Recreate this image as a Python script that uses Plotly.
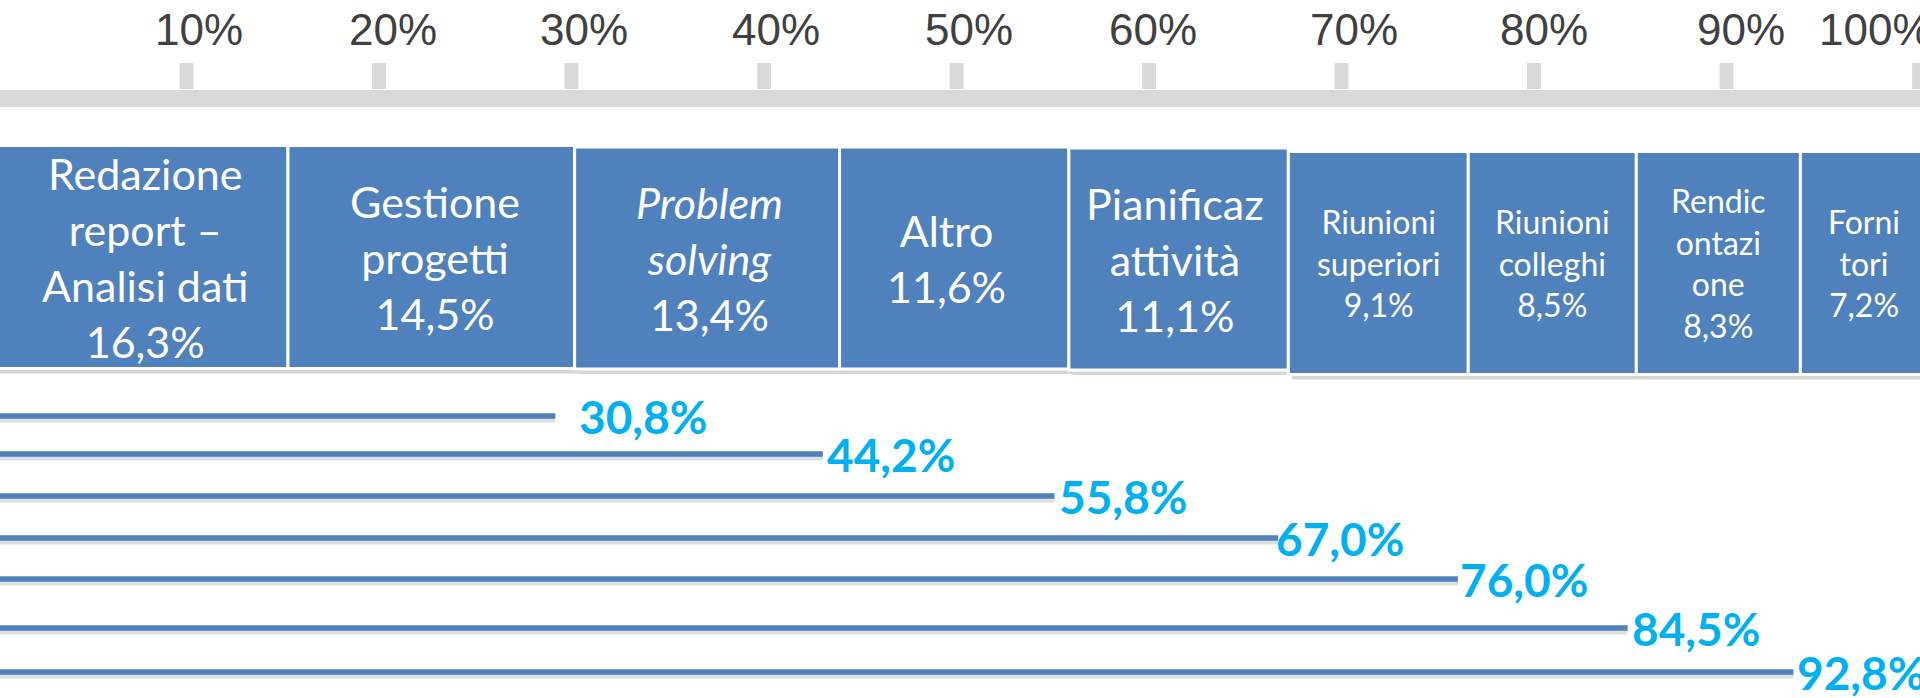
import plotly.graph_objects as go
import numpy as np

# ---------------- data ----------------
tick_values = [10, 20, 30, 40, 50, 60, 70, 80, 90, 100]
tick_labels = ["10%", "20%", "30%", "40%", "50%", "60%", "70%", "80%", "90%", "100%"]

categories = [
    "Redazione<br>report –<br>Analisi dati",
    "Gestione<br>progetti",
    "<i>Problem<br>solving</i>",
    "Altro",
    "Pianificaz<br>attività",
    "Riunioni<br>superiori",
    "Riunioni<br>colleghi",
    "Rendic<br>ontazi<br>one",
    "Forni<br>tori",
]
shares = [16.3, 14.5, 13.4, 11.6, 11.1, 9.1, 8.5, 8.3, 7.2]
share_labels = ["16,3%", "14,5%", "13,4%", "11,6%", "11,1%", "9,1%", "8,5%", "8,3%", "7,2%"]

cumulative = [30.8, 44.2, 55.8, 67.0, 76.0, 84.5, 92.8]
cumulative_labels = ["30,8%", "44,2%", "55,8%", "67,0%", "76,0%", "84,5%", "92,8%"]

# ---------------- layout / style (pixel-like y axis) ----------------
BLUE = "#4f81bd"
GREY = "#d9d9d9"
CYAN = "#00b0f0"

box_center_y = [257, 257, 258, 258, 259, 263, 263, 263, 263]
box_height = [223, 223, 222, 222, 222, 223, 223, 223, 223]
box_font = [43, 43, 43, 43, 43, 32, 32, 32, 32]
box_text_shift = [18, 4, 2, -8, -4, 0, 0, 0, -8]
line_y = [416, 454, 496, 538, 579, 628, 672]
cum_label_shift = [22, 2, 2, -4, 0, 2, 2]
tick_label_shift = [12, 14, 12, 12, 12, 4, 12, 10, 14, -44]

starts = list(np.cumsum([0] + shares[:-1]))
mids = [s + v / 2 for s, v in zip(starts, shares)]

fig = go.Figure()

# tick marks of the scale
fig.add_trace(go.Bar(
    x=tick_values, y=[-26] * len(tick_values), base=89, width=0.72,
    marker=dict(color=GREY, line=dict(width=0)),
    xaxis="x", yaxis="y", hoverinfo="skip", showlegend=False,
))

# box shadows
fig.add_trace(go.Bar(
    x=shares, base=[s + 0.18 for s in starts], y=[c + 5 for c in box_center_y],
    width=box_height, orientation="h",
    marker=dict(color="rgba(0,0,0,0.16)", line=dict(width=0)),
    xaxis="x2", yaxis="y", hoverinfo="skip", showlegend=False,
))
# boxes
fig.add_trace(go.Bar(
    x=shares, base=starts, y=box_center_y, width=box_height, orientation="h",
    marker=dict(color=BLUE, line=dict(color="white", width=3)),
    xaxis="x2", yaxis="y", hoverinfo="skip", showlegend=False,
))

# cumulative lines (shadow then line)
lx, ly, sy = [], [], []
for c, yv in zip(cumulative, line_y):
    lx += [0, c, None]
    ly += [yv, yv, None]
    sy += [yv + 4, yv + 4, None]
fig.add_trace(go.Scatter(
    x=lx, y=sy, mode="lines", line=dict(color="rgba(0,0,0,0.13)", width=5),
    xaxis="x3", yaxis="y", hoverinfo="skip", showlegend=False,
))
fig.add_trace(go.Scatter(
    x=lx, y=ly, mode="lines", line=dict(color=BLUE, width=5.5),
    xaxis="x3", yaxis="y", hoverinfo="skip", showlegend=False,
))

annotations = []
# scale labels
for v, t, sh in zip(tick_values, tick_labels, tick_label_shift):
    annotations.append(dict(
        x=v, y=29, xref="x", yref="y", text=t, showarrow=False,
        xanchor="center", yanchor="middle", xshift=sh,
        font=dict(family="Liberation Sans, Arial", size=44, color="#404040"),
    ))
# box labels
for m, cy, cat, lab, fs, sh in zip(mids, box_center_y, categories, share_labels, box_font, box_text_shift):
    annotations.append(dict(
        x=m, y=cy, xref="x2", yref="y", text=cat + "<br>" + lab, showarrow=False,
        xanchor="center", yanchor="middle", align="center", xshift=sh,
        font=dict(family="Lato, Carlito, sans-serif", size=fs, color="white"),
    ))
# cumulative labels
for c, yv, lab, sh in zip(cumulative, line_y, cumulative_labels, cum_label_shift):
    annotations.append(dict(
        x=c, y=yv, xref="x3", yref="y", text="<b>" + lab + "</b>", showarrow=False,
        xanchor="left", yanchor="middle", xshift=sh,
        font=dict(family="Lato, Carlito, sans-serif", size=46, color=CYAN),
    ))

fig.update_layout(
    width=1920, height=698,
    margin=dict(l=0, r=0, t=0, b=0, pad=0),
    paper_bgcolor="white", plot_bgcolor="white",
    barmode="overlay", showlegend=False,
    xaxis=dict(range=[0.3117, 100.05], visible=False, fixedrange=True, anchor="y"),
    xaxis2=dict(range=[1.735, 98.85], visible=False, fixedrange=True, overlaying="x", anchor="y"),
    xaxis3=dict(range=[2.995, 99.14], visible=False, fixedrange=True, overlaying="x", anchor="y"),
    yaxis=dict(range=[698, 0], visible=False, fixedrange=True, domain=[0, 1]),
    shapes=[dict(type="rect", xref="paper", yref="y", x0=0, x1=1, y0=90, y1=107,
                 fillcolor=GREY, line=dict(width=0), layer="below")],
    annotations=annotations,
)

fig.write_html(
    "out.html",
    config={"displayModeBar": False, "staticPlot": True},
    post_script="document.body.style.margin='0';document.body.style.overflow='hidden';",
)
